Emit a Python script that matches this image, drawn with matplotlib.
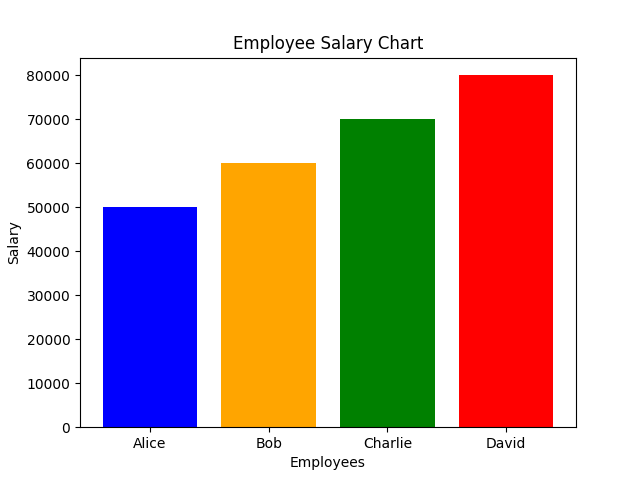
import matplotlib
matplotlib.use("Agg")
import matplotlib.pyplot as plt

employees = ["Alice", "Bob", "Charlie", "David"]
salaries = [50000, 60000, 70000, 80000]
bar_colors = ["blue", "orange", "green", "red"]

fig, ax = plt.subplots(figsize=(6.4, 4.8), dpi=100)
ax.bar(employees, salaries, color=bar_colors)
ax.set_xlabel("Employees")
ax.set_ylabel("Salary")
ax.set_title("Employee Salary Chart")

plt.savefig("out.png")
